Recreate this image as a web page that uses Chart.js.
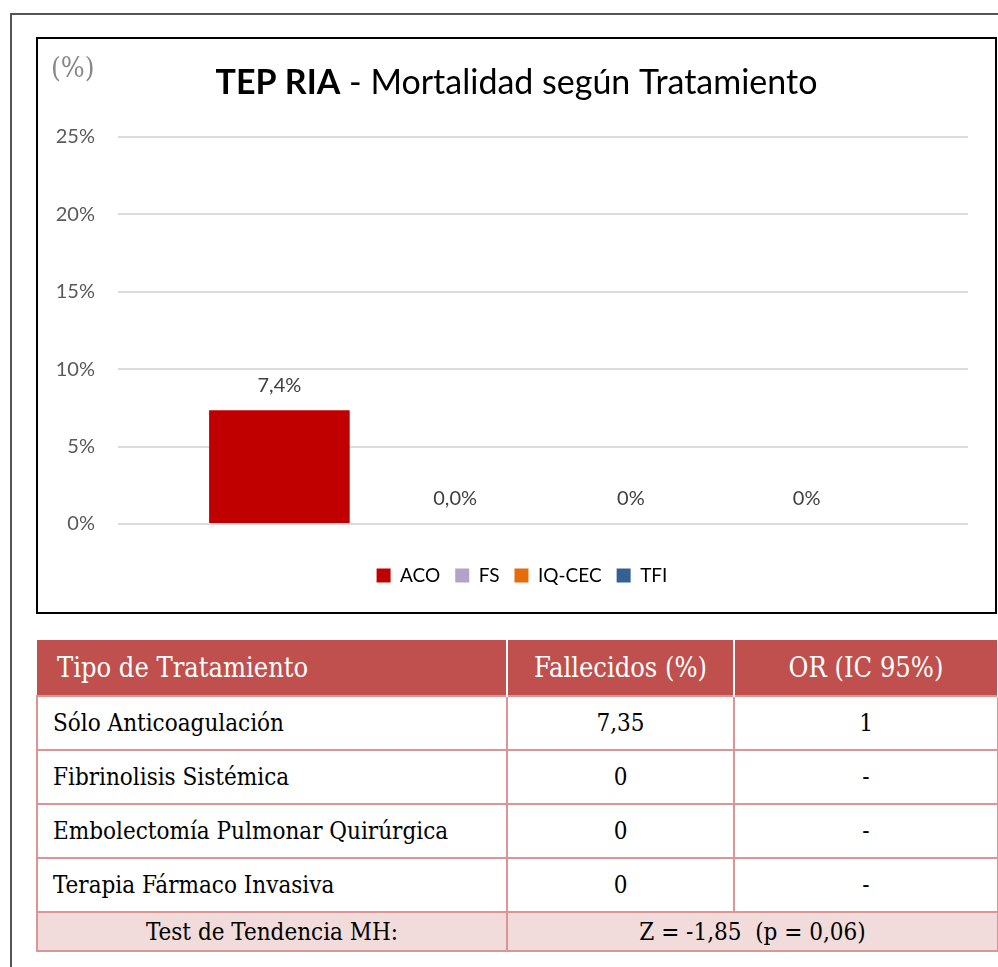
<!DOCTYPE html>
<html>
<head>
<meta charset="utf-8">
<script src="https://cdn.jsdelivr.net/npm/chart.js@4"></script>
<style>
  body { margin: 0; background: #fff; }
  .outer { position: absolute; left: 10px; top: 13px; width: 1000px; height: 1000px; border: 2px solid #555; }
  .chartbox { position: absolute; left: 36px; top: 37px; width: 957px; height: 573px; border: 2px solid #000; background: #fff; }
  table { position: absolute; left: 36px; top: 640px; width: 961px; border-collapse: collapse; table-layout: fixed;
          font-family: "DejaVu Serif Condensed", "DejaVu Serif", serif; font-stretch: condensed; font-size: 24px; color: #000; }
  th { background: #C0504D; color: #fff; font-weight: normal; font-size: 27px; height: 55px;
       border-left: 2px solid #fff; border-right: 2px solid #fff; padding: 0; }
  th:first-child { border-left: none; text-align: left; padding-left: 20px; }
  td { border: 2px solid #D99694; height: 52px; padding: 0; text-align: center; }
  td.name { text-align: left; padding-left: 15px; }
  tr.mh td { background: #F2DCDB; height: 37px; }
</style>
</head>
<body>
<div class="outer"></div>
<div class="chartbox"><canvas id="chart1" width="957" height="573"></canvas></div>

<table>
  <colgroup><col style="width:470px"><col style="width:227px"><col style="width:264px"></colgroup>
  <thead>
    <tr><th>Tipo de Tratamiento</th><th>Fallecidos (%)</th><th>OR (IC 95%)</th></tr>
  </thead>
  <tbody id="table-body"></tbody>
</table>

<script>
// datos del grafico
const seriesNames = ['ACO', 'FS', 'IQ-CEC', 'TFI'];
const seriesValues = [7.35, 0, 0, 0];
const valueLabels = ['7,4%', '0,0%', '0%', '0%'];
const seriesColors = ['#C00000', '#B3A2C7', '#E46C0A', '#376092'];
const yTicks = [0, 5, 10, 15, 20, 25];

// datos de la tabla
const treatments = ['Sólo Anticoagulación', 'Fibrinolisis Sistémica', 'Embolectomía Pulmonar Quirúrgica', 'Terapia Fármaco Invasiva'];
const deaths = ['7,35', '0', '0', '0'];
const oddsRatios = ['1', '-', '-', '-'];
const trendLabel = 'Test de Tendencia MH:';
const trendValue = 'Z = -1,85&nbsp; (p = 0,06)';

let rows = '';
treatments.forEach((t, i) => {
  rows += `<tr><td class="name">${t}</td><td>${deaths[i]}</td><td>${oddsRatios[i]}</td></tr>`;
});
rows += `<tr class="mh"><td>${trendLabel}</td><td colspan="2">${trendValue}</td></tr>`;
document.getElementById('table-body').innerHTML = rows;

const FONT = 'Lato, "Open Sans", sans-serif';

// titulo y etiquetas de valor
const extras = {
  id: 'extras',
  afterLayout(chart) {
    // la leyenda va centrada en todo el recuadro
    chart.legend.left += 19;
    chart.legend.right += 19;
  },
  afterDatasetsDraw(chart) {
    const ctx = chart.ctx;
    ctx.save();
    // (%)
    ctx.fillStyle = '#888';
    ctx.font = '28px "DejaVu Serif Condensed", "DejaVu Serif", serif';
    ctx.textAlign = 'left';
    ctx.textBaseline = 'middle';
    ctx.fillText('(%)', 13, 31);

    // titulo con parte en negrita
    const bold = 'TEP RIA';
    const rest = ' - Mortalidad según Tratamiento';
    ctx.fillStyle = '#000';
    ctx.font = 'bold 34px ' + FONT;
    const wb = ctx.measureText(bold).width;
    ctx.font = '34px ' + FONT;
    const wr = ctx.measureText(rest).width;
    const x0 = chart.width / 2 - (wb + wr) / 2;
    ctx.font = 'bold 34px ' + FONT;
    ctx.fillText(bold, x0, 44);
    ctx.font = '34px ' + FONT;
    ctx.fillText(rest, x0 + wb, 44);

    // etiquetas sobre las barras
    ctx.font = '20px ' + FONT;
    ctx.fillStyle = '#404040';
    ctx.textAlign = 'center';
    chart.data.datasets.forEach((ds, i) => {
      const bar = chart.getDatasetMeta(i).data[0];
      ctx.fillText(valueLabels[i], bar.x, bar.y - 25);
    });
    ctx.restore();
  }
};

const ctx = document.getElementById('chart1').getContext('2d');
const chart = new Chart(ctx, {
  type: 'bar',
  data: {
    labels: [''],
    datasets: seriesNames.map((name, i) => ({
      label: name,
      data: [seriesValues[i]],
      backgroundColor: seriesColors[i],
      barPercentage: 0.8,
      categoryPercentage: 0.827
    }))
  },
  options: {
    responsive: false,
    animation: false,
    layout: { padding: { left: 0, right: 27, top: 98, bottom: 17 } },
    scales: {
      x: {
        grid: { display: false },
        border: { display: false },
        ticks: { display: false },
        afterFit(scale) { scale.height = 27; }
      },
      y: {
        min: 0,
        max: 25,
        afterBuildTicks(scale) { scale.ticks = yTicks.map(v => ({ value: v })); },
        afterFit(scale) { scale.width = 80; },
        grid: { color: '#dcdcdc', lineWidth: 2, drawTicks: false },
        border: { display: false },
        ticks: {
          padding: 23,
          color: '#595959',
          font: { family: FONT, size: 20 },
          callback: v => v + '%'
        }
      }
    },
    plugins: {
      legend: {
        position: 'bottom',
        labels: {
          boxWidth: 14,
          boxHeight: 14,
          padding: 15,
          color: '#000',
          font: { family: FONT, size: 19 }
        }
      },
      tooltip: { enabled: false }
    }
  },
  plugins: [extras]
});
</script>
</body>
</html>
